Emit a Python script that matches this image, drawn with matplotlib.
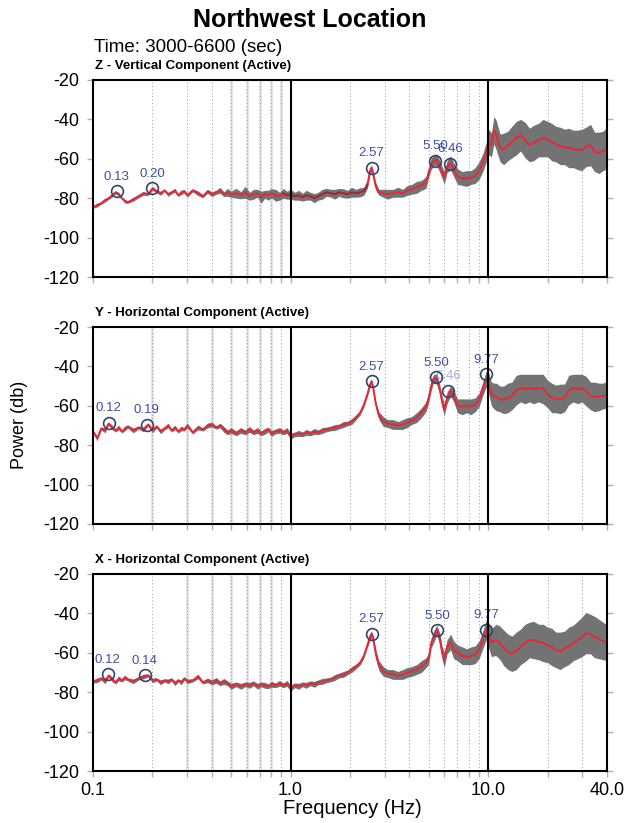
"""Northwest Location: power spectra of three components (Z, Y, X), 3000-6600 s window."""
import matplotlib
matplotlib.use("Agg")
import matplotlib.pyplot as plt

plt.rcParams['font.family'] = ['Liberation Sans', 'DejaVu Sans']

# frequency samples (Hz), shared by all three components
freq = [
    0.100, 0.105, 0.110, 0.115, 0.120, 0.125, 0.130, 0.135, 0.140, 0.145,
    0.150, 0.160, 0.170, 0.180, 0.190, 0.200, 0.210, 0.220, 0.230, 0.240,
    0.250, 0.260, 0.270, 0.280, 0.290, 0.300, 0.320, 0.340, 0.360, 0.380,
    0.400, 0.420, 0.440, 0.460, 0.480, 0.500, 0.530, 0.560, 0.590, 0.620,
    0.650, 0.680, 0.710, 0.740, 0.770, 0.800, 0.840, 0.880, 0.920, 0.960,
    1.000, 1.050, 1.100, 1.150, 1.200, 1.260, 1.320, 1.380, 1.450, 1.520,
    1.600, 1.680, 1.760, 1.850, 1.940, 2.040, 2.140, 2.250, 2.350, 2.450,
    2.520, 2.570, 2.620, 2.700, 2.800, 2.950, 3.100, 3.300, 3.500, 3.700,
    3.900, 4.100, 4.350, 4.600, 4.850, 5.000, 5.150, 5.300, 5.500, 5.700,
    5.850, 6.000, 6.200, 6.460, 6.700, 7.000, 7.400, 7.800, 8.200, 8.600,
    9.000, 9.400, 9.770, 10.10, 10.40, 10.70, 11.00, 11.50, 12.00, 12.60,
    13.20, 13.90, 14.60, 15.40, 16.20, 17.00, 18.00, 19.00, 20.00, 21.00,
    22.00, 23.20, 24.40, 25.60, 27.00, 28.40, 29.80, 31.30, 33.00, 34.60,
    36.40, 38.20, 40.00,
]

# Z - vertical: smoothed power (db) and half-width of the grey spread
z_power = [
    -84.5, -83.5, -82.5, -81.0, -80.0, -78.5, -77.0, -78.0, -80.0, -81.5,
    -82.0, -80.5, -79.0, -77.5, -78.0, -75.0, -76.5, -77.5, -76.0, -78.0,
    -77.0, -76.0, -78.5, -77.0, -76.5, -78.5, -76.0, -77.5, -79.0, -76.5,
    -78.0, -77.0, -76.0, -78.0, -77.0, -78.0, -77.5, -78.5, -77.0, -79.0,
    -78.0, -77.5, -79.5, -78.0, -78.5, -77.5, -78.5, -79.0, -77.5, -78.5,
    -78.0, -79.0, -78.5, -79.5, -78.5, -79.0, -80.0, -79.0, -78.0, -77.0,
    -77.5, -78.0, -77.0, -77.5, -78.0, -77.0, -77.5, -77.0, -76.5, -73.0,
    -66.5, -64.5, -68.0, -74.0, -77.0, -77.5, -78.0, -77.5, -77.0, -77.5,
    -76.0, -75.5, -74.5, -73.5, -72.0, -67.0, -62.5, -61.0, -60.5, -64.0,
    -67.0, -69.5, -64.0, -62.0, -65.5, -69.0, -70.0, -70.0, -69.5, -68.5,
    -66.0, -62.0, -57.0, -51.5, -53.0, -45.5, -48.0, -54.5, -55.0, -53.5,
    -51.5, -49.5, -48.0, -50.5, -53.0, -52.0, -50.5, -49.5, -50.0, -51.5,
    -52.5, -53.5, -54.0, -54.5, -55.0, -55.5, -55.5, -54.0, -53.0, -56.5,
    -57.0, -56.0, -54.5,
]
z_spread = [
    0.6, 1.0, 0.6, 1.0, 0.6, 1.0, 0.8, 1.0, 0.6, 1.0,
    0.6, 1.0, 0.8, 1.0, 0.6, 1.0, 0.8, 1.0, 0.6, 1.0,
    0.8, 1.0, 0.6, 1.2, 0.8, 1.0, 0.8, 1.2, 0.8, 1.0,
    1.2, 1.0, 1.5, 1.2, 2.0, 1.5, 2.5, 1.8, 3.0, 2.0,
    2.5, 2.0, 3.0, 2.0, 2.5, 2.3, 3.0, 2.0, 2.5, 2.0,
    2.5, 2.0, 2.5, 2.0, 2.5, 2.0, 2.3, 2.0, 2.5, 2.0,
    2.0, 2.5, 2.0, 2.3, 2.0, 2.5, 2.0, 2.3, 2.0, 2.0,
    2.0, 1.5, 2.0, 2.0, 1.5, 2.0, 2.5, 2.0, 2.5, 2.0,
    2.5, 2.5, 3.0, 2.5, 3.0, 2.5, 3.0, 2.5, 3.0, 3.0,
    3.0, 3.5, 3.0, 3.5, 3.5, 4.0, 3.5, 4.0, 3.5, 4.0,
    4.5, 4.5, 5.0, 6.5, 6.0, 7.0, 7.5, 7.0, 8.0, 7.5,
    8.0, 8.5, 8.0, 9.0, 8.5, 9.0, 8.5, 9.5, 9.0, 9.5,
    9.0, 9.5, 9.0, 10.0, 9.5, 10.0, 10.5, 10.0, 10.5, 10.0,
    10.5, 10.0, 10.5,
]
z_peak_freq = [0.132, 0.200, 2.57, 5.40, 6.43]
z_peak_db = [-76.5, -75.0, -64.5, -61.0, -62.5]
z_peak_labels = ["0.13", "0.20", "2.57", "5.50", "6.46"]

# Y - horizontal
y_power = [
    -73.0, -76.5, -71.5, -72.5, -69.0, -71.0, -72.5, -71.0, -73.0, -71.5,
    -70.5, -72.5, -71.0, -72.0, -69.5, -72.5, -70.5, -73.0, -71.5, -70.0,
    -72.5, -71.0, -73.0, -71.5, -72.0, -70.0, -73.5, -71.0, -72.0, -70.0,
    -69.5, -71.0, -70.0, -72.0, -73.5, -72.5, -74.0, -72.5, -73.5, -72.0,
    -73.5, -72.5, -74.0, -73.0, -72.0, -74.0, -73.0, -72.5, -73.5, -72.5,
    -75.5, -74.5, -74.0, -74.5, -73.5, -74.0, -73.0, -73.5, -72.5, -72.0,
    -71.5, -71.0, -70.5, -69.5, -69.0, -68.0, -66.0, -63.5, -59.5, -54.0,
    -49.5, -47.5, -51.0, -59.0, -65.0, -68.0, -69.0, -69.5, -70.0, -69.5,
    -68.5, -67.5, -66.0, -63.5, -60.5, -56.0, -50.0, -46.0, -46.5, -52.0,
    -58.0, -62.0, -56.0, -52.5, -55.0, -60.0, -60.5, -60.0, -60.5, -59.5,
    -57.0, -51.5, -46.5, -49.0, -54.0, -55.0, -55.5, -56.5, -57.0, -56.0,
    -55.0, -52.0, -51.0, -51.5, -51.0, -51.5, -51.0, -51.5, -54.0, -56.0,
    -56.5, -56.5, -56.0, -52.0, -51.0, -51.5, -51.0, -52.5, -55.0, -55.5,
    -55.5, -55.0, -54.5,
]
y_spread = [
    0.8, 1.2, 0.8, 1.2, 0.8, 1.2, 0.8, 1.2, 0.8, 1.2,
    0.8, 1.2, 0.8, 1.2, 0.8, 1.2, 0.8, 1.2, 0.8, 1.2,
    0.8, 1.2, 0.8, 1.2, 0.8, 1.2, 0.8, 1.2, 0.8, 1.2,
    1.2, 0.8, 1.2, 1.5, 1.2, 1.5, 1.2, 1.5, 1.2, 1.5,
    1.2, 1.5, 1.2, 1.5, 1.2, 1.5, 1.2, 1.5, 1.2, 1.5,
    1.5, 1.2, 1.5, 1.2, 1.5, 1.2, 1.5, 1.2, 1.5, 1.2,
    1.2, 1.5, 1.2, 1.5, 1.2, 1.5, 1.2, 1.2, 1.2, 1.2,
    1.5, 1.2, 1.5, 1.5, 2.0, 2.5, 2.0, 2.5, 2.0, 2.5,
    2.5, 2.0, 2.5, 2.5, 2.5, 2.5, 2.5, 2.0, 2.5, 2.5,
    3.0, 3.0, 3.0, 2.5, 3.0, 3.5, 4.0, 3.5, 4.0, 3.5,
    3.5, 3.5, 4.0, 5.5, 6.0, 6.5, 7.0, 6.5, 7.0, 7.5,
    7.0, 7.5, 7.0, 7.5, 7.0, 7.5, 7.0, 7.5, 7.0, 7.5,
    7.0, 7.5, 7.0, 7.5, 7.0, 7.5, 7.0, 7.5, 7.0, 7.5,
    7.0, 6.5, 7.0,
]
y_peak_freq = [0.120, 0.187, 2.57, 5.45, 6.30, 9.77]
y_peak_db = [-68.6, -69.5, -47.5, -45.5, -52.5, -44.0]
y_peak_labels = ["0.12", "0.19", "2.57", "5.50", "6.46", "9.77"]

# X - horizontal
x_power = [
    -74.5, -74.0, -73.0, -74.5, -71.5, -73.5, -75.0, -73.0, -74.0, -72.5,
    -73.5, -74.5, -73.0, -72.0, -71.5, -74.0, -73.5, -75.0, -74.0, -74.5,
    -73.5, -75.5, -74.0, -75.0, -73.0, -74.5, -74.0, -72.0, -75.0, -74.0,
    -75.0, -74.0, -75.5, -74.5, -75.5, -77.0, -76.0, -77.0, -76.0, -76.5,
    -75.5, -77.0, -76.0, -76.5, -77.0, -76.0, -76.5, -75.5, -76.5, -75.5,
    -78.0, -76.5, -77.0, -76.0, -76.5, -75.5, -76.0, -75.0, -74.5, -74.0,
    -73.5, -72.5, -71.5, -71.0, -70.0, -68.5, -67.0, -65.0, -61.5, -56.0,
    -52.0, -50.5, -53.0, -60.5, -66.5, -69.5, -70.5, -71.0, -71.5, -71.0,
    -70.0, -69.5, -68.5, -67.0, -65.0, -63.0, -55.0, -52.0, -48.5, -53.0,
    -60.0, -63.5, -57.0, -54.5, -58.5, -60.0, -61.5, -62.0, -61.5, -61.0,
    -58.5, -53.5, -48.5, -51.5, -55.0, -54.0, -53.5, -55.0, -57.5, -59.5,
    -60.5, -59.0, -57.0, -55.0, -53.5, -53.5, -54.5, -55.0, -56.0, -57.0,
    -58.5, -59.0, -58.0, -56.5, -55.0, -53.5, -52.0, -50.0, -50.5, -52.0,
    -53.0, -54.0, -55.0,
]
x_spread = [
    0.8, 1.2, 0.8, 1.2, 0.8, 1.2, 0.8, 1.2, 0.8, 1.2,
    0.8, 1.2, 0.8, 1.2, 0.8, 1.2, 0.8, 1.2, 0.8, 1.2,
    0.8, 1.2, 0.8, 1.2, 0.8, 1.2, 0.8, 1.2, 0.8, 1.2,
    1.2, 1.5, 1.2, 1.5, 1.2, 1.5, 1.2, 1.5, 1.2, 1.5,
    1.2, 1.5, 1.2, 1.5, 1.2, 1.5, 1.2, 1.5, 1.2, 1.5,
    1.5, 1.2, 1.5, 1.2, 1.5, 1.2, 1.5, 1.2, 1.5, 1.2,
    1.2, 1.5, 1.2, 1.5, 1.2, 1.5, 1.2, 1.2, 1.2, 1.2,
    2.0, 1.5, 2.0, 2.5, 2.5, 2.5, 2.0, 2.5, 2.0, 2.5,
    2.5, 2.5, 2.5, 3.0, 2.5, 3.0, 2.5, 3.0, 2.5, 3.0,
    3.5, 4.0, 3.5, 4.0, 4.5, 4.0, 4.5, 4.0, 4.5, 4.5,
    4.5, 4.5, 5.0, 6.5, 7.0, 7.5, 8.0, 8.5, 9.0, 9.0,
    9.0, 9.5, 9.0, 9.5, 9.0, 9.5, 9.0, 9.5, 9.0, 9.5,
    9.0, 9.5, 9.0, 9.5, 9.0, 9.5, 10.0, 10.5, 10.0, 10.5,
    10.0, 9.5, 9.0,
]
x_peak_freq = [0.119, 0.183, 2.57, 5.50, 9.77]
x_peak_db = [-71.0, -71.5, -50.3, -48.6, -48.3]
x_peak_labels = ["0.12", "0.14", "2.57", "5.50", "9.77"]

minor_grid = [0.2, 0.3, 0.4, 0.5, 0.6, 0.7, 0.8, 0.9,
              2, 3, 4, 5, 6, 7, 8, 9, 20, 30]

fig = plt.figure(figsize=(6.28, 8.23), dpi=100)

LEFT, WIDTH, HEIGHT = 93 / 628, 514 / 628, 197 / 823
bottoms = [1 - 277 / 823, 1 - 524 / 823, 1 - 771 / 823]


def panel(bottom, power, spread, peaks_f, peaks_db, labels, name, faint,
          dark=None, label_alpha=None, show_x=False):
    ax = fig.add_axes([LEFT, bottom, WIDTH, HEIGHT])
    ax.set_xscale("log")
    ax.set_xlim(0.1, 40)
    ax.set_ylim(-120, -20)

    for f in faint:
        ax.axvline(f, color="#e4e4e4", lw=2.2, zorder=0)
    for f in minor_grid:
        ax.axvline(f, color="#9a9a9a", lw=0.7, ls=(0, (1, 2.5)), zorder=0.5)

    lo = [p - s for p, s in zip(power, spread)]
    hi = [p + s for p, s in zip(power, spread)]
    ax.fill_between(freq, lo, hi, color="#737373", lw=0, zorder=3)
    ax.plot(freq, power, color="#f02233", lw=1.3, zorder=4)
    if dark is not None:
        seg = [i for i, f in enumerate(freq) if dark[0] <= f <= dark[1]]
        ax.plot([freq[i] for i in seg], [power[i] for i in seg],
                color="#9a2a33", lw=1.4, zorder=4.1)

    ax.plot(peaks_f, peaks_db, ls="none", marker="o", ms=8.5, mfc="none",
            mec="#34446e", mew=1.2, zorder=5)
    for i, (f, d, t) in enumerate(zip(peaks_f, peaks_db, labels)):
        a = 1.0 if label_alpha is None else label_alpha[i]
        ax.annotate(t, (f, d), xytext=(0, 10.5), textcoords="offset points",
                    ha="center", va="center", fontsize=9.5, color="#3c4fa6",
                    alpha=a, zorder=2)

    for f in (1.0, 10.0):
        ax.axvline(f, color="black", lw=1.5, zorder=6)

    for s in ax.spines.values():
        s.set_linewidth(1.5)
        s.set_zorder(7)

    ax.set_yticks([-20, -40, -60, -80, -100, -120])
    ax.set_yticklabels(["-20", "-40", "-60", "-80", "-100", "-120"])
    ax.tick_params(axis="y", which="both", direction="out", length=4,
                   width=1.0, color="#b0b0b0", labelsize=13, pad=6,
                   right=True)
    ax.set_xticks([0.1, 1.0, 10.0, 40.0])
    ax.set_xticks(minor_grid, minor=True)
    ax.tick_params(axis="x", which="both", direction="out", length=4,
                   width=1.0, color="#b0b0b0", labelsize=13, pad=4)
    ax.xaxis.set_minor_formatter(plt.NullFormatter())
    if show_x:
        ax.set_xticklabels(["0.1", "1.0", "10.0", "40.0"])
    else:
        ax.set_xticklabels([])

    ax.text(0.003, 1.07, name, transform=ax.transAxes, ha="left",
            va="center", fontsize=9.5, fontweight="bold")
    return ax


panel(bottoms[0], z_power, z_spread, z_peak_freq, z_peak_db, z_peak_labels,
      "Z - Vertical Component (Active)", [0.5, 0.6, 0.7, 0.8, 0.9],
      dark=(0.9, 2.46))
panel(bottoms[1], y_power, y_spread, y_peak_freq, y_peak_db, y_peak_labels,
      "Y - Horizontal Component (Active)", [0.2, 0.3, 0.4, 0.5, 0.6, 0.7, 0.8],
      label_alpha=[1, 1, 1, 1, 0.45, 1])
panel(bottoms[2], x_power, x_spread, x_peak_freq, x_peak_db, x_peak_labels,
      "X - Horizontal Component (Active)", [0.3, 0.4, 0.5, 0.6, 0.7, 0.8],
      show_x=True)

fig.text(310 / 628, 1 - 20 / 823, "Northwest Location", ha="center",
         va="center", fontsize=18, fontweight="bold")
fig.text(94 / 628, 1 - 48 / 823, "Time: 3000-6600 (sec)", ha="left",
         va="center", fontsize=13.5)
fig.text(20 / 628, 1 - 425 / 823, "Power (db)", rotation=90, ha="center",
         va="center", fontsize=13)
fig.text(352 / 628, 1 - 809 / 823, "Frequency (Hz)", ha="center",
         va="center", fontsize=14.5)

fig.savefig("out.png", dpi=100)
